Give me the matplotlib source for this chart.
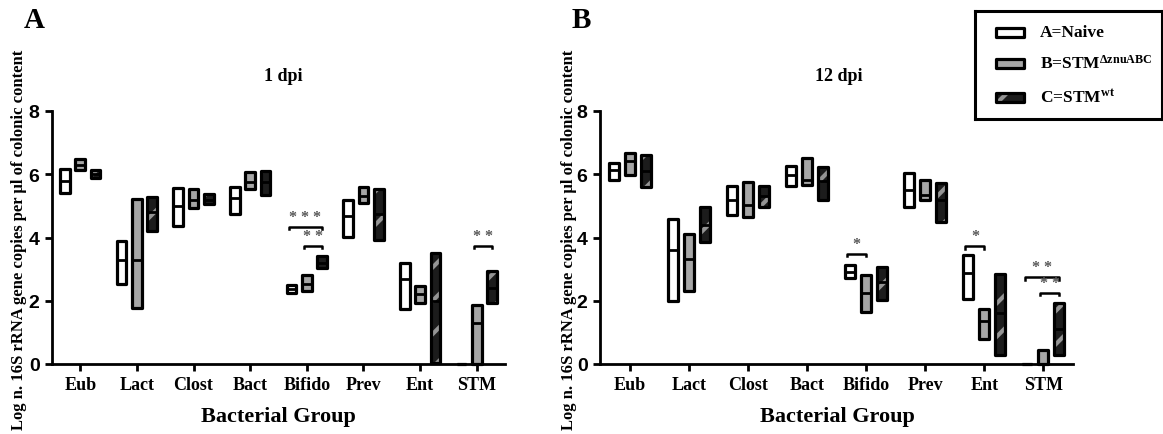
import numpy as np
import matplotlib.pyplot as plt
from matplotlib.patches import Rectangle

plt.rcParams['font.family'] = ['Liberation Serif', 'DejaVu Serif']
plt.rcParams['font.weight'] = 'bold'
plt.rcParams['hatch.linewidth'] = 3.0
plt.rcParams['mathtext.fontset'] = 'custom'
plt.rcParams['mathtext.rm'] = 'Liberation Serif:bold'
plt.rcParams['mathtext.it'] = 'Liberation Serif:bold'
plt.rcParams['mathtext.bf'] = 'Liberation Serif:bold'

groups = ['Eub', 'Lact', 'Clost', 'Bact', 'Bifido', 'Prev', 'Ent', 'STM']
series = ['A=Naive', 'B=STM$^{\\Delta \\mathrm{znuABC}}$', 'C=STM$^{\\mathrm{wt}}$']

# 1 dpi: min / median / max of log copies
naive_1_lo = [5.42, 2.52, 4.35, 4.73, 2.24, 4.02, 1.75, 0.0]
naive_1_mid = [5.78, 3.28, 5.00, 5.24, 2.37, 4.68, 2.69, 0.0]
naive_1_hi = [6.17, 3.88, 5.55, 5.60, 2.50, 5.17, 3.19, 0.0]
znu_1_lo = [6.14, 1.77, 4.92, 5.53, 2.30, 5.08, 1.93, 0.0]
znu_1_mid = [6.30, 3.28, 5.20, 5.74, 2.53, 5.30, 2.20, 1.29]
znu_1_hi = [6.48, 5.22, 5.52, 6.07, 2.83, 5.60, 2.48, 1.88]
wt_1_lo = [5.88, 4.22, 5.06, 5.35, 3.02, 3.93, 0.03, 1.93]
wt_1_mid = [6.00, 4.80, 5.20, 5.75, 3.20, 4.75, 2.00, 2.40]
wt_1_hi = [6.12, 5.27, 5.37, 6.10, 3.40, 5.52, 3.52, 2.95]

# 12 dpi
naive_12_lo = [5.82, 2.00, 4.70, 5.64, 2.73, 4.96, 2.07, 0.0]
naive_12_mid = [6.13, 3.60, 5.20, 5.99, 2.90, 5.49, 2.88, 0.0]
naive_12_hi = [6.35, 4.60, 5.64, 6.27, 3.13, 6.04, 3.44, 0.0]
znu_12_lo = [5.98, 2.30, 4.66, 5.66, 1.63, 5.17, 0.80, 0.0]
znu_12_mid = [6.42, 3.33, 5.02, 5.81, 2.26, 5.33, 1.36, 0.0]
znu_12_hi = [6.67, 4.12, 5.74, 6.50, 2.80, 5.83, 1.73, 0.43]
wt_12_lo = [5.60, 3.87, 4.95, 5.17, 2.02, 4.50, 0.30, 0.27]
wt_12_mid = [6.10, 4.40, 5.30, 5.80, 2.60, 5.20, 1.60, 1.10]
wt_12_hi = [6.60, 4.98, 5.64, 6.24, 3.07, 5.72, 2.84, 1.92]

# significance brackets: (group, first series, second series, height, stars)
sig_1 = [(4, 0, 2, 4.33, '* * *'), (4, 1, 2, 3.74, '* *'), (7, 1, 2, 3.74, '* *')]
sig_12 = [(4, 0, 1, 3.48, '*'), (6, 0, 1, 3.72, '*'),
          (7, 0, 2, 2.74, '* *'), (7, 1, 2, 2.24, '* *')]

offsets = [-0.27, 0.0, 0.27]
width = 0.17
fills = ['white', '#a6a6a6', '#1c1c1c']
hatch_col = '#959595'


def draw_panel(ax, lows, mids, highs, sigs):
    x = np.arange(len(groups)) + 0.5
    for k in range(3):
        xs = x + offsets[k]
        lo = np.array(lows[k])
        hi = np.array(highs[k])
        if k == 2:
            ax.bar(xs, hi - lo, bottom=lo, width=width, color=fills[k],
                   edgecolor=hatch_col, hatch='/', linewidth=0, clip_on=False, zorder=2)
            ax.bar(xs, hi - lo, bottom=lo, width=width, facecolor='none',
                   edgecolor='black', linewidth=2.3, joinstyle='round', clip_on=False, zorder=3)
        else:
            ax.bar(xs, hi - lo, bottom=lo, width=width, facecolor=fills[k],
                   edgecolor='black', linewidth=2.3, joinstyle='round', clip_on=False, zorder=3)
        ax.hlines(mids[k], xs - width / 2, xs + width / 2, color='black', lw=2, zorder=3)

    for g, a, b, y, stars in sigs:
        x1 = x[g] + offsets[a] - 0.05
        x2 = x[g] + offsets[b]
        ax.plot([x1, x1, x2, x2], [y - 0.07, y, y, y - 0.07], color='black', lw=1.8,
                solid_joinstyle='round')
        ax.text((x1 + x2) / 2, y + 0.06, stars, ha='center', va='bottom',
                fontsize=11.5, color='#555555')

    ax.set_xlim(0, 8)
    ax.set_ylim(0, 8)
    ax.set_xticks(x)
    ax.set_xticklabels(groups, fontsize=13, fontweight='bold')
    ax.set_yticks([0, 2, 4, 6, 8])
    ax.set_yticklabels(['0', '2', '4', '6', '8'], fontsize=14, fontweight='bold',
                       family=['Liberation Sans', 'DejaVu Sans'])
    for s in ['top', 'right']:
        ax.spines[s].set_visible(False)
    for s in ['left', 'bottom']:
        ax.spines[s].set_linewidth(2)
    ax.tick_params(width=2, length=5, pad=4)
    ax.set_facecolor('none')


fig = plt.figure(figsize=(11.63, 4.35), dpi=100)

ax1 = fig.add_axes([52 / 1163, 70 / 435, 453 / 1163, 253 / 435])
draw_panel(ax1, [naive_1_lo, znu_1_lo, wt_1_lo], [naive_1_mid, znu_1_mid, wt_1_mid],
           [naive_1_hi, znu_1_hi, wt_1_hi], sig_1)
ax1.text(0.51, 1.14, '1 dpi', transform=ax1.transAxes, ha='center', va='center', fontsize=13)
ax1.text(0.50, -0.205, 'Bacterial Group', transform=ax1.transAxes, ha='center', va='center',
         fontsize=16)

ax2 = fig.add_axes([600 / 1163, 70 / 435, 473 / 1163, 253 / 435])
draw_panel(ax2, [naive_12_lo, znu_12_lo, wt_12_lo], [naive_12_mid, znu_12_mid, wt_12_mid],
           [naive_12_hi, znu_12_hi, wt_12_hi], sig_12)
ax2.text(0.504, 1.14, '12 dpi', transform=ax2.transAxes, ha='center', va='center', fontsize=13)
ax2.text(0.502, -0.205, 'Bacterial Group', transform=ax2.transAxes, ha='center', va='center',
         fontsize=16)

ylab = 'Log n. 16S rRNA gene copies per µl of colonic content'
fig.text(19 / 1163, 1 - 240 / 435, ylab, rotation=90, ha='center', va='center', fontsize=12)
fig.text(569 / 1163, 1 - 240 / 435, ylab, rotation=90, ha='center', va='center', fontsize=12)

fig.text(34 / 1163, 1 - 21 / 435, 'A', ha='center', va='center', fontsize=21)
fig.text(581 / 1163, 1 - 21 / 435, 'B', ha='center', va='center', fontsize=21)

# legend box
lax = fig.add_axes([975 / 1163, 1 - 120 / 435, 187 / 1163, 108 / 435])
lax.set_xlim(0, 187)
lax.set_ylim(108, 0)
lax.set_xticks([])
lax.set_yticks([])
for s in lax.spines.values():
    s.set_linewidth(2.2)
rows = [21, 52, 86]
for k in range(3):
    y0 = rows[k] - 4.5
    if k == 2:
        lax.add_patch(Rectangle((21, y0), 28, 9, facecolor=fills[k], edgecolor=hatch_col,
                                hatch='/', linewidth=0))
        lax.add_patch(Rectangle((21, y0), 28, 9, facecolor='none', edgecolor='black',
                                linewidth=2.3, joinstyle='round'))
    else:
        lax.add_patch(Rectangle((21, y0), 28, 9, facecolor=fills[k], edgecolor='black',
                                linewidth=2.3, joinstyle='round'))
    lax.text(65, rows[k], series[k], ha='left', va='center', fontsize=12.5)

fig.savefig('out.png', dpi=100)
